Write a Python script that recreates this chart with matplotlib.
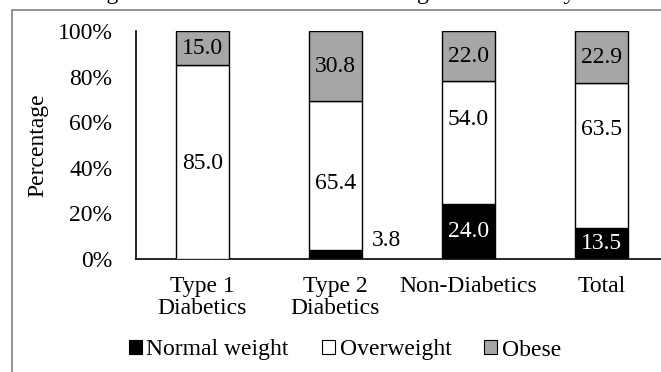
import matplotlib
matplotlib.use('Agg')
import matplotlib.pyplot as plt
from matplotlib.patches import Patch, Rectangle
import numpy as np

plt.rcParams['font.family'] = ['Liberation Serif', 'DejaVu Serif']

# data
groups = ['Type 1\nDiabetics', 'Type 2\nDiabetics', 'Non-Diabetics', 'Total']
normal = [0.0, 3.8, 24.0, 13.5]
overweight = [85.0, 65.4, 54.0, 63.5]
obese = [15.0, 30.8, 22.0, 22.9]
series_names = ['Normal weight', 'Overweight', 'Obese']
series_colors = ['black', 'white', '#a6a6a6']

# where the overweight labels sit (in % of the axis), as in the original
ov_label_y = [42, 33, 61, 57]

fs = 17
W, H = 661, 372

fig = plt.figure(figsize=(W / 100, H / 100), dpi=100)
ax = fig.add_axes([136 / W, 113 / H, 532 / W, 228 / H])

x = np.arange(len(groups))
bw = 0.406
normal = np.array(normal)
overweight = np.array(overweight)
obese = np.array(obese)

b1 = ax.bar(x, normal, bw, color=series_colors[0], edgecolor='black', lw=1.0, zorder=3)
b2 = ax.bar(x, overweight, bw, bottom=normal, color=series_colors[1], edgecolor='black', lw=1.0, zorder=3)
b3 = ax.bar(x, obese, bw, bottom=normal + overweight, color=series_colors[2], edgecolor='black', lw=1.0, zorder=3)

# zero-height bar shows as a dashed line on the axis
for p, v in zip(b1, normal):
    if v == 0:
        p.set_edgecolor('white')
        p.set_linestyle((0, (2.5, 2.5)))
        p.set_zorder(4)

# labels
for i in range(len(groups)):
    if normal[i] >= 10:
        ax.text(x[i], normal[i] / 2, f'{normal[i]:.1f}', ha='center', va='center',
                fontsize=fs, color='white', zorder=5)
    elif normal[i] > 0:
        ax.text(x[i] + bw / 2 + 0.07, 8.3, f'{normal[i]:.1f}', ha='left', va='center',
                fontsize=fs, color='black', zorder=5)
    ax.text(x[i], ov_label_y[i], f'{overweight[i]:.1f}', ha='center',
            va='center', fontsize=fs, zorder=5)
    ax.text(x[i], normal[i] + overweight[i] + obese[i] / 2, f'{obese[i]:.1f}', ha='center',
            va='center', fontsize=fs, zorder=5)

ax.set_xlim(-0.5, 3.5)
ax.set_ylim(0, 100)
ax.set_yticks(range(0, 101, 20))
ax.set_yticklabels([f'{v}%' for v in range(0, 101, 20)], fontsize=fs)
ax.set_xticks(x)
ax.set_xticklabels(groups, fontsize=fs, linespacing=1.1)
ax.tick_params(axis='y', length=0, pad=17)
ax.tick_params(axis='x', length=0, pad=12)
for s in ['top', 'right']:
    ax.spines[s].set_visible(False)
for s in ['left', 'bottom']:
    ax.spines[s].set_linewidth(1.2)
ax.patch.set_alpha(0)

fig.text(38 / W, 1 - 145 / H, 'Percentage', rotation=90, ha='center', va='center', fontsize=fs)

# title, mostly cut off above the picture
fig.text(69 / W, 1 + 1 / H, 'Weight status of diabetic cases among older adults by BMI',
         ha='left', va='baseline', fontsize=fs)

handles = [Patch(facecolor=c, edgecolor='black', lw=0.8) for c in series_colors]
fig.legend(handles, series_names, loc='center', bbox_to_anchor=(345 / W, 22 / H), ncol=3,
           frameon=False, fontsize=fs, handlelength=0.55, handleheight=0.55,
           handletextpad=0.2, columnspacing=1.4, borderaxespad=0)

fig.patches.append(Rectangle((12 / W, -0.2), 1.0, 1.2 - 10 / H, transform=fig.transFigure,
                             fill=False, edgecolor='#808080', lw=1.2))

fig.savefig('out.png', dpi=100)
